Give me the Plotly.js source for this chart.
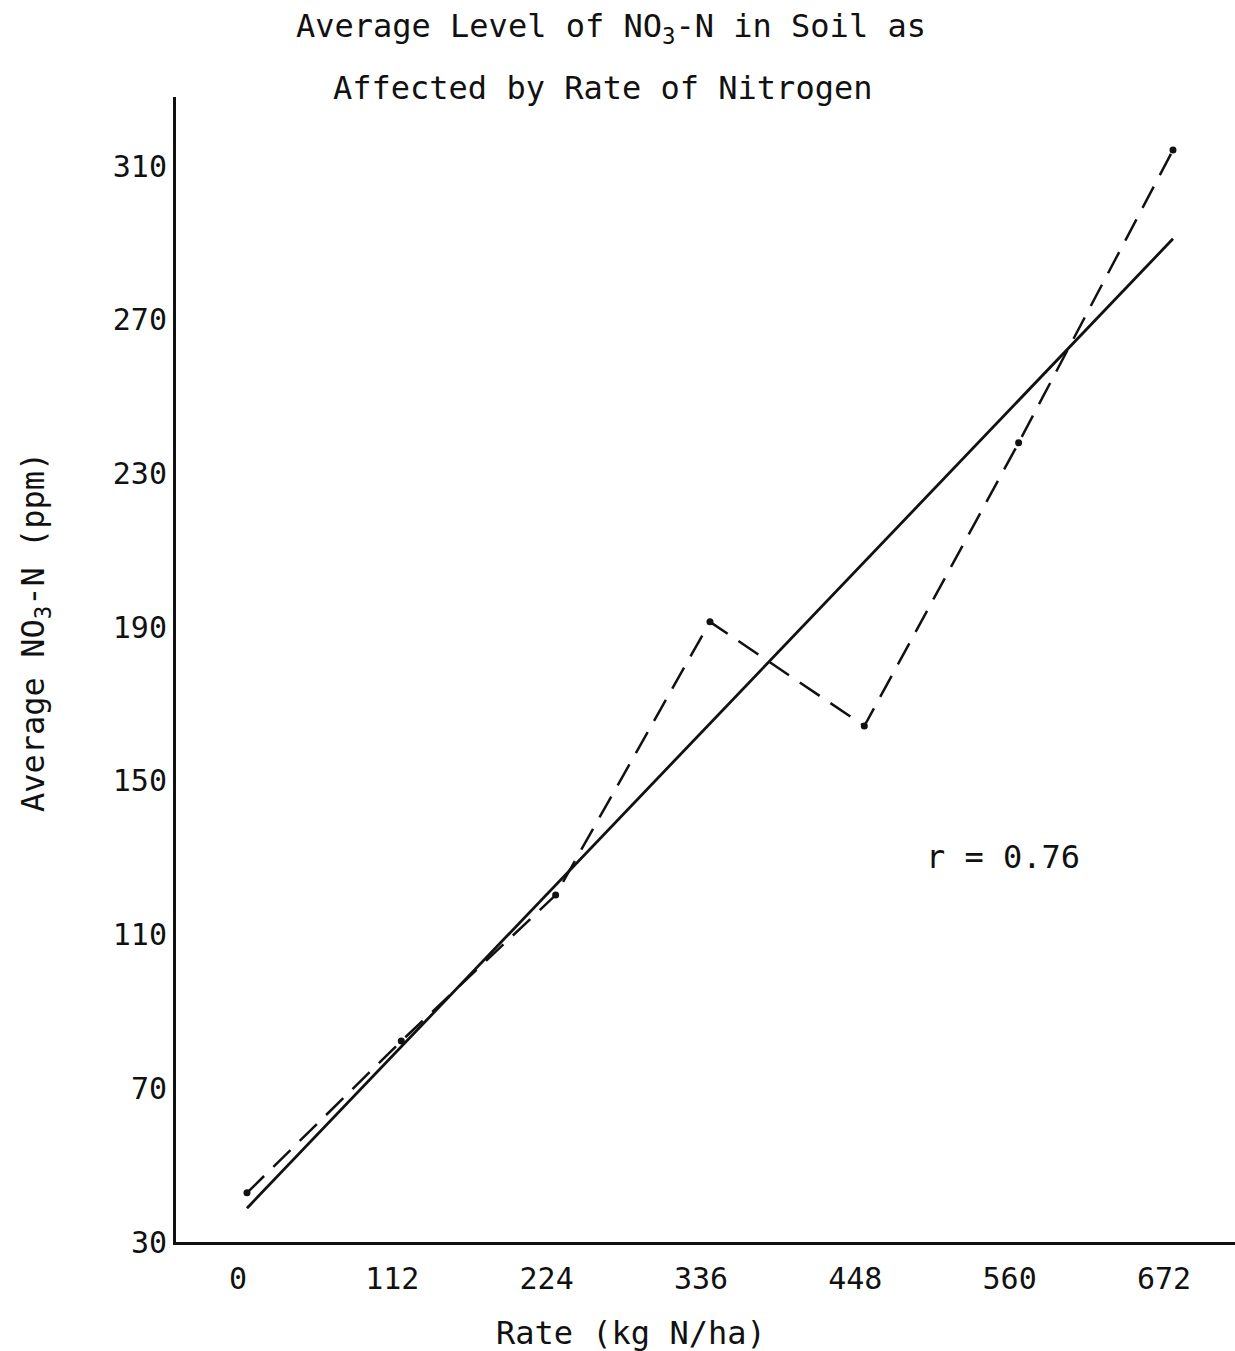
<!DOCTYPE html>
<html>
<head>
<meta charset="utf-8">
<script src="https://cdn.plot.ly/plotly-3.0.1.min.js"></script>
<style>html,body{margin:0;padding:0;background:#fff;}#chart{width:1235px;height:1351px;}</style>
</head>
<body>
<div id="chart"></div>
<script>
// Data
const rates = [0, 112, 224, 336, 448, 560, 672];          // kg N/ha
const avgNO3 = [42.8, 82.3, 120.3, 191.4, 164.3, 238.0, 314.2]; // ppm (observed, dashed)
const fitRates = [0, 672];
const fitNO3 = [38.8, 291.1];                               // regression line
const xTicks = [0, 112, 224, 336, 448, 560, 672];
const yTicks = [30, 70, 110, 150, 190, 230, 270, 310];
const rText = "r = 0.76";

const FONT = "DejaVu Sans Mono, Liberation Mono, monospace";
const INK = "#111";

const traces = [
  {
    x: rates, y: avgNO3, type: "scatter", mode: "lines+markers",
    line: {color: INK, width: 2.5, dash: "24px,13px"},
    marker: {color: INK, size: 7},
    showlegend: false, hoverinfo: "x+y"
  },
  {
    x: fitRates, y: fitNO3, type: "scatter", mode: "lines",
    line: {color: INK, width: 2.8},
    showlegend: false, hoverinfo: "x+y"
  }
];

const layout = {
  width: 1235, height: 1351,
  margin: {l: 176, r: 0, t: 97, b: 109, pad: 0},
  paper_bgcolor: "#fff", plot_bgcolor: "#fff",
  font: {family: FONT, color: INK, size: 30},
  title: {
    text: "Average Level of NO<sub>3</sub>-N in Soil as",
    font: {family: FONT, size: 32, color: INK},
    xref: "container", yref: "container",
    x: 0.4947, y: 0.9808, xanchor: "center", yanchor: "middle"
  },
  xaxis: {
    range: [-51.5, 717],
    tickvals: xTicks, ticktext: xTicks.map(String),
    ticks: "", showgrid: false, zeroline: false,
    showline: true, linecolor: INK, linewidth: 3,
    ticklabelshift: -9, ticklabelstandoff: 8,
    tickfont: {family: FONT, size: 30, color: INK}
  },
  yaxis: {
    range: [30, 328],
    tickvals: yTicks, ticktext: yTicks.map(String),
    ticks: "", showgrid: false, zeroline: false,
    showline: true, linecolor: INK, linewidth: 3,
    ticklabelstandoff: 0,
    tickfont: {family: FONT, size: 30, color: INK}
  },
  annotations: [
    {
      text: "Affected by Rate of Nitrogen", xref: "paper", yref: "paper",
      x: 0.4023, y: 1.0079, xanchor: "center", yanchor: "middle",
      showarrow: false, font: {family: FONT, size: 32, color: INK}
    },
    {
      text: "Average NO<sub>3</sub>-N (ppm)", xref: "paper", yref: "paper",
      x: -0.1331, y: 0.5328, xanchor: "center", yanchor: "middle", textangle: -90,
      showarrow: false, font: {family: FONT, size: 32, color: INK}
    },
    {
      text: "Rate (kg N/ha)", xref: "paper", yref: "paper",
      x: 0.4297, y: -0.0795, xanchor: "center", yanchor: "middle",
      showarrow: false, font: {family: FONT, size: 32, color: INK}
    },
    {
      text: rText, xref: "x", yref: "y",
      x: 548.6, y: 130.2, xanchor: "center", yanchor: "middle",
      showarrow: false, font: {family: FONT, size: 32, color: INK}
    }
  ]
};

Plotly.newPlot("chart", traces, layout, {displayModeBar: false, staticPlot: true});
</script>
</body>
</html>
